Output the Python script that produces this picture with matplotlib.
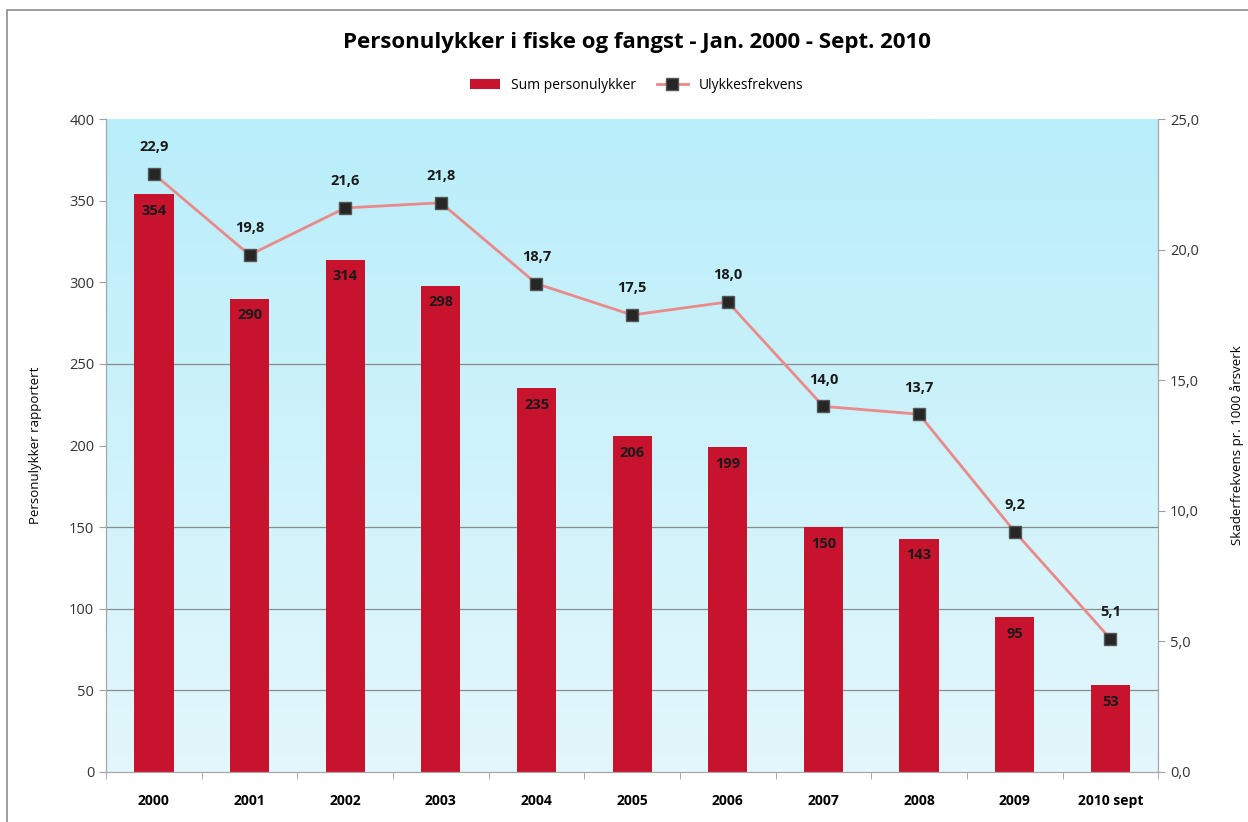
import numpy as np
import matplotlib
matplotlib.use("Agg")
import matplotlib.pyplot as plt
from matplotlib.patches import Rectangle
from matplotlib.colors import LinearSegmentedColormap

# data
years = ["2000", "2001", "2002", "2003", "2004", "2005", "2006", "2007", "2008", "2009", "2010 sept"]
ulykker = [354, 290, 314, 298, 235, 206, 199, 150, 143, 95, 53]
frekvens = [22.9, 19.8, 21.6, 21.8, 18.7, 17.5, 18.0, 14.0, 13.7, 9.2, 5.1]

plt.rcParams['font.family'] = ['Open Sans', 'DejaVu Sans']

fig = plt.figure(figsize=(12.48, 8.22), dpi=100)
ax = fig.add_axes([0.085, 0.061, 0.843, 0.794])
ax2 = ax.twinx()

x = np.arange(len(years))

# gradient background
cmap = LinearSegmentedColormap.from_list("bg", ["#e3f7fc", "#b9eefa"])
grad = np.linspace(0, 1, 256).reshape(-1, 1)
ax.imshow(grad, aspect="auto", cmap=cmap, origin="lower",
          extent=[-0.5, len(years) - 0.5, 0, 400], zorder=0)

for g in [50, 100, 150, 250]:
    ax.axhline(g, color="#8c8c8c", lw=0.9, zorder=1)

bars = ax.bar(x, ulykker, width=0.41, color="#c8132f", zorder=2,
              label="Sum personulykker")
for xi, v in zip(x, ulykker):
    ax.text(xi, v - 6, str(v), ha="center", va="top", fontsize=10.5,
            fontweight="bold", color="#1a1a1a", zorder=5)

ax.set_xlim(-0.5, len(years) - 0.5)
ax.set_ylim(0, 400)
ax.set_yticks(range(0, 401, 50))
ax.set_xticks(x)
ax.set_xticklabels(years, fontweight="bold", fontsize=10)
ax.set_xticks(np.arange(-0.5, len(years), 1), minor=True)
ax.tick_params(axis="x", which="major", length=0, pad=16)
ax.tick_params(axis="x", which="minor", length=5, color="#a0a0a0")
ax.tick_params(axis="y", length=5, color="#a0a0a0", labelsize=10.5, labelcolor="#333333")
ax.set_ylabel("Personulykker rapportert", fontsize=9.5)
ax.yaxis.set_label_coords(-0.061, 0.5)

ax2.plot(x, frekvens, color="#ea8a8a", lw=2, marker="s", markersize=9,
         markerfacecolor="#262626", markeredgecolor="#555555", zorder=4,
         label="Ulykkesfrekvens")
for xi, v in zip(x, frekvens):
    ax2.text(xi, v + 0.75, f"{v:.1f}".replace(".", ","), ha="center", va="bottom",
             fontsize=10.5, fontweight="bold", color="#1a1a1a")
ax2.set_ylim(0, 25)
ax2.set_yticks(range(0, 26, 5))
ax2.set_yticklabels([f"{t:.1f}".replace(".", ",") for t in range(0, 26, 5)])
ax2.tick_params(axis="y", length=5, color="#a0a0a0", labelsize=10.5, labelcolor="#333333")
ax2.set_ylabel("Skaderfrekvens pr. 1000 årsverk", fontsize=9.5)
ax2.yaxis.set_label_coords(1.068, 0.5)

for a in (ax, ax2):
    a.spines["top"].set_visible(False)
    for s in ("left", "right", "bottom"):
        a.spines[s].set_color("#a6a6a6")

ax.set_zorder(ax2.get_zorder() - 1)
ax2.patch.set_visible(False)
ax.patch.set_visible(False)

fig.text(0.51, 0.948, "Personulykker i fiske og fangst - Jan. 2000 - Sept. 2010",
         ha="center", va="center", fontsize=16, fontweight="bold")

h1, l1 = ax.get_legend_handles_labels()
h2, l2 = ax2.get_legend_handles_labels()
fig.legend(h1 + h2, l1 + l2, loc="center", bbox_to_anchor=(0.51, 0.896), ncol=2,
           frameon=False, fontsize=10, handlelength=2.2, columnspacing=1.5)

fig.patches.append(Rectangle((0.006, -0.01), 1.1, 0.998, transform=fig.transFigure,
                             fill=False, edgecolor="#8c8c8c", lw=1.2))

fig.savefig("out.png", dpi=100)
